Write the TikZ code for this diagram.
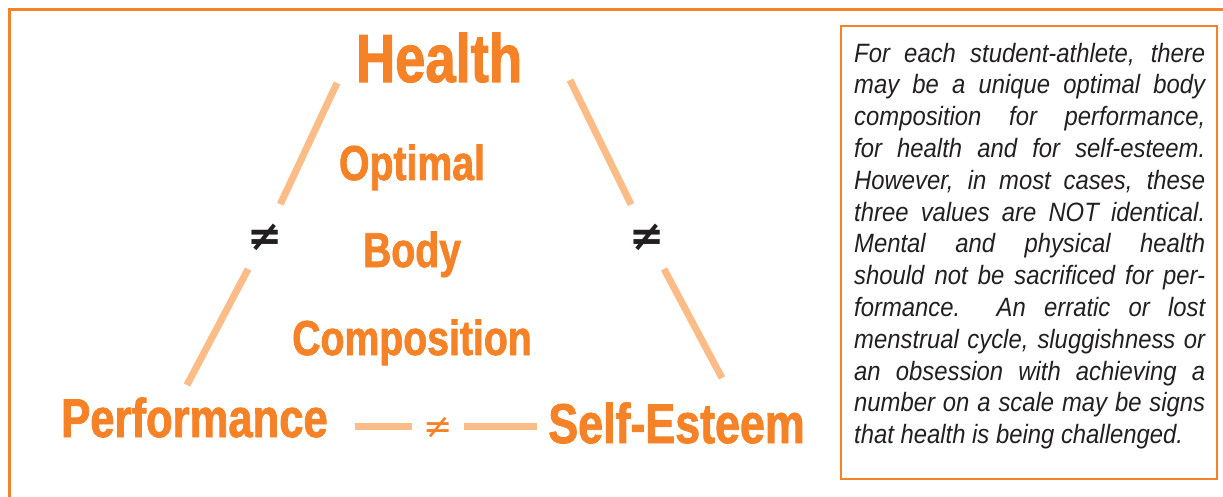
\documentclass[tikz,border=0pt]{standalone}
\usepackage{fontspec}
\setmainfont{Liberation Sans}
\newfontfamily\headfont{Liberation Sans}[FakeStretch=0.8,BoldFeatures={FakeBold=1.5}]
\newfontfamily\notefont{Liberation Sans}[FakeStretch=0.9]
\newfontfamily\signfont{DejaVu Sans}
\usepackage{xcolor}
\usepackage{tikz}
\usetikzlibrary{positioning}
\definecolor{triorange}{RGB}{245,130,38}
\definecolor{trilight}{RGB}{252,188,135}
\definecolor{notegray}{RGB}{35,31,32}

\begin{document}
\begin{tikzpicture}[x=1pt,y=-1pt,
  corner/.style={font=\headfont\bfseries\fontsize{#1}{#1}\selectfont,text=triorange,
                 anchor=base,inner sep=0pt},
  link/.style={trilight,line width=7pt},
  gap/.style={circle,inner sep=0pt,minimum size=#1},
  frame/.style={triorange,line width=2.5pt}]
  \useasboundingbox (0,0) rectangle (1223,497);
  \draw[frame] (1223,9.5) -- (9.5,9.5) -- (9.5,497);
  % corners of the triangle
  \node[corner=68] (health) at (439,82) {Health};
  \node[corner=54.5] (perf) at (194.5,437) {Performance};
  \node[corner=56] (self) at (676.5,443) {Self-Esteem};
  \foreach \w/\y [count=\i] in {Optimal/180,Body/267,Composition/355}
     \node[corner=49] (mid\i) at (412,\y) {\w};
  % not-equal marks on the sides
  \node[gap=72,font=\signfont\bfseries\fontsize{42}{42}\selectfont,text=notegray] (neL) at (265,237) {≠};
  \node[gap=72,font=\signfont\bfseries\fontsize{42}{42}\selectfont,text=notegray] (neR) at (647,237) {≠};
  \node[gap=52,font=\signfont\fontsize{35}{35}\selectfont,text=triorange] (neB) at (438,428) {≠};
  \coordinate (hL) at (337,83);  \coordinate (pT) at (187,385);
  \coordinate (hR) at (570,80);  \coordinate (sT) at (722,378);
  \coordinate (pR) at (355,426); \coordinate (sL) at (537,426);
  \draw[link] (hL) -- (neL) -- (pT);
  \draw[link] (hR) -- (neR) -- (sT);
  \draw[link] (pR) -- (pR -| neB.west);
  \draw[link] (neB.east |- sL) -- (sL);
  % side note
  \draw[frame] (841,26) rectangle (1217,479);
  \node[anchor=north west,inner sep=0pt,text width=351pt,align=justify,text=notegray,
        font=\notefont\itshape\fontsize{26.5}{31.8}\selectfont] (note) at (854,39.7)
    {\hyphenpenalty=10000\exhyphenpenalty=10000\tolerance=9999\strut
     For each student-athlete, there\linebreak
     may be a unique optimal body\linebreak
     composition for performance,\linebreak
     for health and for self-esteem.\linebreak
     However, in most cases, these\linebreak
     three values are NOT identical.\linebreak
     Mental and physical health\linebreak
     should not be sacrificed for per-\linebreak
     formance.\ \ An erratic or lost\linebreak
     menstrual cycle, sluggishness or\linebreak
     an obsession with achieving a\linebreak
     number on a scale may be signs\linebreak
     that health is being challenged.};
\end{tikzpicture}
\end{document}
